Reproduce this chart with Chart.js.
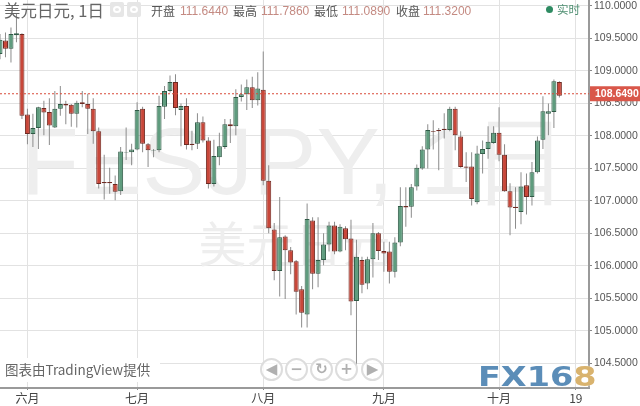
<!DOCTYPE html>
<html lang="zh">
<head>
    <meta charset="UTF-8">
    <title>美元日元, 1日</title>
    <script src="https://cdn.jsdelivr.net/npm/chart.js"></script>
    <style>
        * { margin: 0; padding: 0; box-sizing: border-box; }
        body { width: 640px; height: 406px; background: #fff; overflow: hidden; position: relative; font-family: 'Noto Sans CJK SC', sans-serif; }
        canvas { position: absolute; left: 0; top: 0; }
        .t { position: absolute; white-space: nowrap; line-height: 1; }
        .lab { color: #555; font-size: 12px; top: 5px; }
        .val { color: #c48a82; font-size: 12px; top: 5px; font-family: 'Liberation Sans', sans-serif; }
        .icon { position: absolute; top: 2px; width: 14px; height: 15px; background: #e6e6e6; border-radius: 2px; }
        .icon i { position: absolute; left: 3px; top: 4px; width: 8px; height: 7px; border: 2px solid #fff; border-radius: 50%; }
        .btn { position: absolute; top: 358px; width: 23px; height: 23px; border: 2px solid #ddd; border-radius: 50%; background: rgba(255,255,255,0.75);
               color: #b0b0b0; text-align: center; font: bold 15px/19px 'DejaVu Sans', sans-serif; }
    </style>
</head>
<body>
    <canvas id="chart" width="640" height="406"></canvas>

    <div class="t" style="left:4px;top:2px;font-size:16.5px;color:#666">美元日元, 1日</div>
    <div class="icon" style="left:110px"><i></i></div>
    <div class="icon" style="left:127px"><i></i></div>
    <div class="t lab" style="left:151px">开盘</div><div class="t val" style="left:180px">111.6440</div>
    <div class="t lab" style="left:233px">最高</div><div class="t val" style="left:261px">111.7860</div>
    <div class="t lab" style="left:314px">最低</div><div class="t val" style="left:342px">111.0890</div>
    <div class="t lab" style="left:396px">收盘</div><div class="t val" style="left:423px">111.3200</div>
    <div style="position:absolute;left:546px;top:6px;width:7px;height:7px;border-radius:50%;background:#2e8b62"></div>
    <div class="t" style="left:557px;top:4px;font-size:11.5px;color:#4f8f72">实时</div>

    <div class="t" style="left:0;top:358px;width:160px;height:24px;background:#fff"></div>
    <div class="t" style="left:5px;top:363px;font-size:13.5px;color:#666">图表由TradingView提供</div>

    <div class="btn" style="left:260px">◀</div>
    <div class="btn" style="left:285px">−</div>
    <div class="btn" style="left:310px">↻</div>
    <div class="btn" style="left:335px">+</div>
    <div class="btn" style="left:361px">▶</div>

    <div class="t" style="left:478px;top:364px;font:bold 27px/25px 'DejaVu Sans',sans-serif;color:#5b8db8;transform:scaleX(1.24);transform-origin:left;text-shadow:0 0 2px #fff">FX16<span style="color:#d9b36e">8</span></div>

    <script>
        const monthIndex = [5, 25, 48, 70, 91, 105];
        const monthLabels = ['六月', '七月', '八月', '九月', '十月', '19'];
        const priceTicks = [110, 109.5, 109, 108.5, 108, 107.5, 107, 106.5, 106, 105.5, 105, 104.5];
        const lastPrice = 108.649;

        const opens = [
            109.26,109.47,109.34,109.55,109.57,108.33,108.03,108.12,108.43,108.37,
            108.13,108.42,108.49,108.48,108.34,108.52,108.49,108.42,108.07,107.29,
            107.29,107.26,107.15,107.74,107.75,107.79,108.42,107.87,107.77,107.78,
            108.45,108.69,108.83,108.40,108.46,107.88,107.88,108.21,107.93,107.26,
            107.67,107.83,108.18,108.15,108.60,108.64,108.75,108.55,108.71,107.31,
            106.56,105.92,106.45,106.24,106.07,105.64,105.25,106.70,105.88,106.09,
            106.33,106.62,106.22,106.58,106.42,105.46,106.09,105.73,106.10,106.50,
            106.23,106.22,105.91,106.36,106.92,106.91,107.22,107.50,107.79,108.07,
            108.09,108.11,108.09,108.42,107.99,107.53,107.53,106.98,107.72,107.80,
            107.89,108.05,107.71,107.15,106.91,106.83,107.24,107.06,107.44,107.94,
            108.34,108.37,108.83
        ];
        const closes = [
            109.48,109.34,109.57,109.58,108.31,108.03,108.12,108.44,108.36,108.16,
            108.42,108.49,108.47,108.34,108.51,108.49,108.42,108.07,107.26,107.27,
            107.27,107.14,107.76,107.75,107.79,108.40,107.88,107.78,107.78,108.46,
            108.69,108.83,108.43,108.46,107.86,107.86,108.21,107.93,107.26,107.69,
            107.84,108.18,108.15,108.60,108.64,108.75,108.55,108.73,107.31,106.58,
            105.92,106.44,106.24,106.05,105.60,105.28,106.72,105.88,106.09,106.33,
            106.62,106.22,106.60,106.41,105.45,106.14,105.71,106.10,106.50,106.23,
            106.19,105.91,106.36,106.92,106.90,107.21,107.51,107.79,108.09,108.06,
            108.07,108.09,108.42,108.01,107.52,107.51,107.03,107.73,107.80,107.91,
            108.05,107.71,107.15,106.90,106.89,107.22,107.06,107.44,107.93,108.38,
            108.38,108.84,108.62
        ];
        const highs = [
            109.57,109.59,109.67,109.88,109.58,108.42,108.34,108.45,108.54,108.58,
            108.69,108.77,108.54,108.49,108.54,108.69,108.65,108.58,108.13,107.71,
            107.51,107.39,107.83,108.13,107.88,108.52,108.45,107.89,107.80,108.62,
            108.77,108.93,108.95,108.50,108.58,108.08,108.35,108.30,107.98,107.94,
            108.05,108.26,108.26,108.72,108.79,108.87,108.91,108.98,109.30,107.55,
            106.66,107.06,106.47,106.29,106.09,105.69,106.96,106.75,106.75,106.50,
            106.68,106.68,106.64,106.61,106.71,106.40,106.14,106.14,106.66,106.52,
            106.37,106.37,106.44,107.21,107.21,107.26,107.56,107.84,108.18,108.24,
            108.12,108.35,108.45,108.45,108.07,107.75,107.75,107.85,107.93,108.15,
            108.15,108.44,107.87,107.27,107.21,107.44,107.42,107.60,107.99,108.61,
            108.50,108.87,108.84
        ];
        const lows = [
            109.18,109.21,109.13,109.44,108.26,107.87,107.83,107.80,108.01,107.86,
            108.12,108.31,108.18,108.14,108.13,108.44,108.03,107.88,107.19,107.02,
            107.11,107.01,107.09,107.63,107.55,107.78,107.75,107.52,107.67,107.75,
            108.26,108.67,108.32,107.84,107.79,107.78,107.80,107.90,107.19,107.22,
            107.55,107.80,107.89,108.01,108.53,108.40,108.43,108.47,107.24,106.50,
            105.78,105.53,105.49,105.87,105.25,105.05,105.05,105.64,105.67,106.01,
            106.22,106.18,106.21,106.24,105.24,104.47,105.58,105.64,105.82,106.09,
            105.91,105.73,105.82,106.30,106.60,106.74,107.16,107.48,107.50,107.79,
            107.47,107.96,108.07,107.78,107.51,107.29,106.93,106.95,107.42,107.65,
            107.88,107.61,107.14,106.47,106.57,106.64,106.79,106.93,107.42,107.80,
            108.01,108.12,108.59
        ];

        const xMax = 107.4;
        const wicks = highs.map((h, i) => ({ x: i, y: [lows[i], h] }));
        const upBodies = [];
        const downBodies = [];
        opens.forEach((o, i) => {
            const body = { x: i, y: [Math.min(o, closes[i]), Math.max(o, closes[i])] };
            (closes[i] >= o ? upBodies : downBodies).push(body);
        });

        // marca d'agua e etiqueta do preco atual
        const extras = {
            id: 'extras',
            beforeDatasetsDraw(chart) {
                const { ctx, chartArea } = chart;
                const cx = (chartArea.left + chartArea.right) / 2;
                ctx.save();
                ctx.fillStyle = '#eeeeee';
                ctx.textAlign = 'center';
                ctx.textBaseline = 'alphabetic';
                ctx.font = '95px "Liberation Sans", sans-serif';
                ctx.fillText('FESJPY, 1日', cx, 194);
                ctx.font = '48px "Noto Sans CJK SC", sans-serif';
                ctx.fillText('美元日元', cx, 262);
                ctx.restore();
            },
            afterDraw(chart) {
                const { ctx, chartArea, scales } = chart;
                const y = scales.y.getPixelForValue(lastPrice);
                ctx.save();
                ctx.fillStyle = '#d9574a';
                ctx.fillRect(chartArea.right + 1, y - 7.5, 51, 15);
                ctx.fillStyle = '#fff';
                ctx.font = 'bold 10.5px "Liberation Sans", sans-serif';
                ctx.textBaseline = 'middle';
                ctx.fillText(lastPrice.toFixed(4), chartArea.right + 6, y + 0.5);
                ctx.restore();
            }
        };

        new Chart(document.getElementById('chart'), {
            type: 'bar',
            plugins: [extras],
            data: {
                datasets: [
                    { type: 'line', data: [{ x: 0, y: lastPrice }, { x: xMax, y: lastPrice }], borderColor: '#d84a38', borderWidth: 1, borderDash: [2, 2], pointRadius: 0, order: 0 },
                    { data: downBodies, backgroundColor: '#c8473a', borderColor: '#6e2a22', borderWidth: 1, borderSkipped: false, barThickness: 5, grouped: false, inflateAmount: 0, order: 1 },
                    { data: upBodies, backgroundColor: '#5f9c7e', borderColor: '#2f5a46', borderWidth: 1, borderSkipped: false, barThickness: 5, grouped: false, inflateAmount: 0, order: 1 },
                    { data: wicks, backgroundColor: '#8c8c8c', borderWidth: 0, barThickness: 1, grouped: false, inflateAmount: 0, order: 2 }
                ]
            },
            options: {
                responsive: false,
                animation: false,
                layout: { padding: 0 },
                plugins: { legend: { display: false }, tooltip: { enabled: false } },
                scales: {
                    x: {
                        type: 'linear',
                        min: 0,
                        max: xMax,
                        offset: false,
                        border: { color: '#9a9a9a', width: 2 },
                        grid: { color: '#e2e2e2', tickLength: 2, tickColor: '#888', offset: false },
                        afterBuildTicks: (s) => { s.ticks = monthIndex.map(v => ({ value: v })); },
                        afterFit: (s) => { s.height = 18; s.paddingLeft = 0; s.paddingRight = 0; },
                        ticks: {
                            autoSkip: false,
                            maxRotation: 0,
                            padding: 1,
                            color: '#444',
                            font: { family: '"Noto Sans CJK SC", sans-serif', size: 12 },
                            callback: (v) => monthLabels[monthIndex.indexOf(v)]
                        }
                    },
                    y: {
                        position: 'right',
                        min: 104.12,
                        max: 110.092,
                        border: { color: '#9a9a9a', width: 2 },
                        grid: { color: '#e2e2e2', tickLength: 3, tickColor: '#888' },
                        afterBuildTicks: (s) => { s.ticks = priceTicks.map(v => ({ value: v })); },
                        afterFit: (s) => { s.width = 51; s.paddingTop = 0; s.paddingBottom = 0; },
                        ticks: {
                            autoSkip: false,
                            padding: 2,
                            color: '#555',
                            font: { family: '"Liberation Sans", sans-serif', size: 10.5 },
                            callback: (v) => v.toFixed(4)
                        }
                    }
                }
            }
        });
    </script>
</body>
</html>
